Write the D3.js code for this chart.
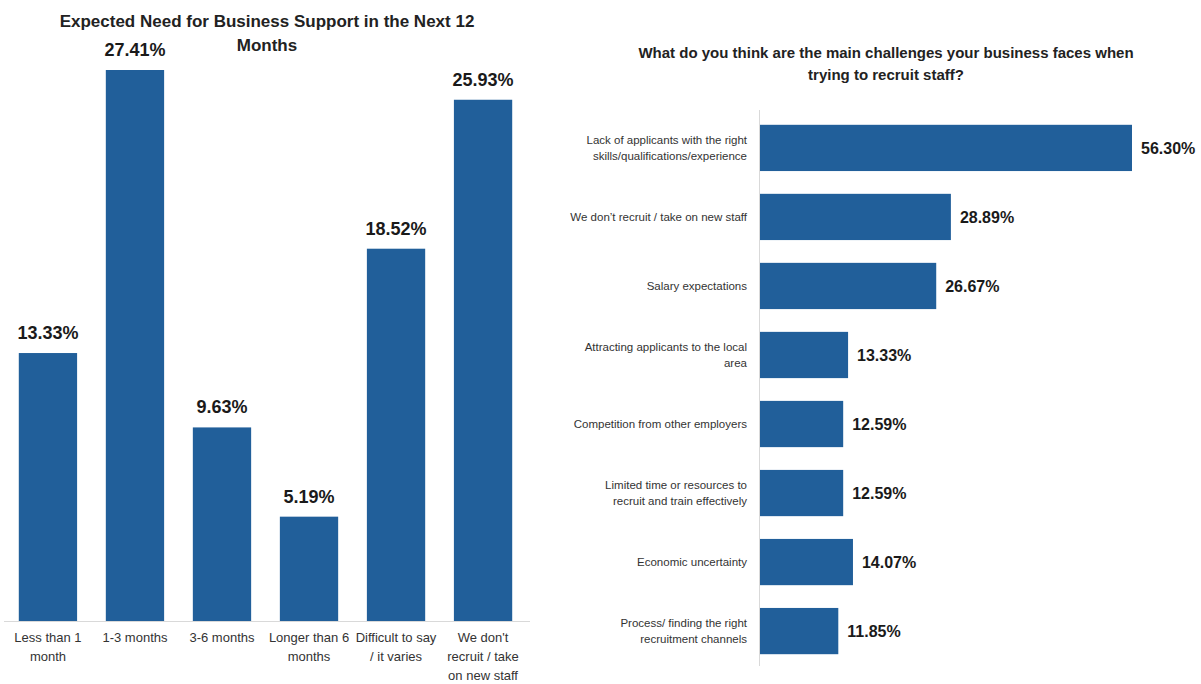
<!DOCTYPE html>
<html>
<head>
<meta charset="utf-8">
<script src="https://cdn.jsdelivr.net/npm/d3@7"></script>
<style>
  body { margin: 0; background: #fff; }
  svg { display: block; }
</style>
</head>
<body>
<div id="chart"></div>
<script>
// left chart data
const supportCats = [
  ["Less than 1", "month"],
  ["1-3 months"],
  ["3-6 months"],
  ["Longer than 6", "months"],
  ["Difficult to say", "/ it varies"],
  ["We don't", "recruit / take", "on new staff"]
];
const supportVals = [13.33, 27.41, 9.63, 5.19, 18.52, 25.93];

// right chart data
const challengeCats = [
  ["Lack of applicants with the right", "skills/qualifications/experience"],
  ["We don\u2019t recruit / take on new staff"],
  ["Salary expectations"],
  ["Attracting applicants to the local", "area"],
  ["Competition from other employers"],
  ["Limited time or resources to", "recruit and train effectively"],
  ["Economic uncertainty"],
  ["Process/ finding the right", "recruitment channels"]
];
const challengeVals = [56.30, 28.89, 26.67, 13.33, 12.59, 12.59, 14.07, 11.85];

const W = 1201, H = 684;
const barColor = "#215f9a";
const font = "'Liberation Sans', Arial, sans-serif";

const svg = d3.select("#chart").append("svg")
  .attr("width", W).attr("height", H)
  .style("font-family", font);

/* ---------- left: column chart ---------- */
function supportChart() {
  const base = 621;
  const x = d3.scaleBand()
    .domain(d3.range(supportVals.length))
    .range([4, 527])
    .paddingInner(0.33)
    .paddingOuter(0.17);
  const y = d3.scaleLinear().domain([0, 27.41]).range([base, 70]);

  const g = svg.append("g");

  g.append("text")
    .attr("x", 267).attr("y", 27)
    .attr("text-anchor", "middle")
    .attr("font-size", "17px").attr("font-weight", "bold")
    .attr("fill", "#222")
    .text("Expected Need for Business Support in the Next 12");
  g.append("text")
    .attr("x", 267).attr("y", 51)
    .attr("text-anchor", "middle")
    .attr("font-size", "17px").attr("font-weight", "bold")
    .attr("fill", "#222")
    .text("Months");

  g.selectAll("rect")
    .data(supportVals)
    .enter().append("rect")
    .attr("x", (d, i) => x(i))
    .attr("y", d => y(d))
    .attr("width", x.bandwidth())
    .attr("height", d => base - y(d))
    .attr("fill", barColor);

  g.append("line")
    .attr("x1", 4).attr("x2", 530)
    .attr("y1", base + 0.5).attr("y2", base + 0.5)
    .attr("stroke", "#d9d9d9");

  g.selectAll(".val")
    .data(supportVals)
    .enter().append("text")
    .attr("class", "val")
    .attr("x", (d, i) => x(i) + x.bandwidth() / 2)
    .attr("y", d => y(d) - 14)
    .attr("text-anchor", "middle")
    .attr("font-size", "18px").attr("font-weight", "bold")
    .attr("fill", "#1a1a1a")
    .text(d => d.toFixed(2) + "%");

  const labels = g.selectAll(".cat")
    .data(supportCats)
    .enter().append("text")
    .attr("class", "cat")
    .attr("x", (d, i) => x(i) + x.bandwidth() / 2)
    .attr("y", 642)
    .attr("text-anchor", "middle")
    .attr("font-size", "13px")
    .attr("fill", "#333");
  labels.selectAll("tspan")
    .data(d => d)
    .enter().append("tspan")
    .attr("x", function () { return d3.select(this.parentNode).attr("x"); })
    .attr("dy", (d, i) => i === 0 ? 0 : 19)
    .text(d => d);
}

/* ---------- right: horizontal bar chart ---------- */
function challengeChart() {
  const left = 760;
  const y = d3.scaleBand()
    .domain(d3.range(challengeVals.length))
    .range([111, 668])
    .paddingInner(0.33)
    .paddingOuter(0.2);
  const x = d3.scaleLinear().domain([0, 56.30]).range([left, 1132]);

  const g = svg.append("g");

  g.append("text")
    .attr("x", 886).attr("y", 58)
    .attr("text-anchor", "middle")
    .attr("font-size", "15px").attr("font-weight", "bold")
    .attr("fill", "#222")
    .text("What do you think are the main challenges your business faces when");
  g.append("text")
    .attr("x", 886).attr("y", 80)
    .attr("text-anchor", "middle")
    .attr("font-size", "15px").attr("font-weight", "bold")
    .attr("fill", "#222")
    .text("trying to recruit staff?");

  g.selectAll("rect")
    .data(challengeVals)
    .enter().append("rect")
    .attr("x", left)
    .attr("y", (d, i) => y(i))
    .attr("width", d => x(d) - left)
    .attr("height", y.bandwidth())
    .attr("fill", barColor);

  g.append("line")
    .attr("x1", left - 0.5).attr("x2", left - 0.5)
    .attr("y1", 110).attr("y2", 666)
    .attr("stroke", "#d9d9d9");

  g.selectAll(".val")
    .data(challengeVals)
    .enter().append("text")
    .attr("class", "val")
    .attr("x", d => x(d) + 9)
    .attr("y", (d, i) => y(i) + y.bandwidth() / 2)
    .attr("dy", "0.35em")
    .attr("font-size", "16px").attr("font-weight", "bold")
    .attr("fill", "#1a1a1a")
    .text(d => d.toFixed(2) + "%");

  const labels = g.selectAll(".cat")
    .data(challengeCats)
    .enter().append("text")
    .attr("class", "cat")
    .attr("x", 747)
    .attr("y", (d, i) => y(i) + y.bandwidth() / 2 - (d.length - 1) * 8)
    .attr("dy", "0.35em")
    .attr("text-anchor", "end")
    .attr("font-size", "11.5px")
    .attr("fill", "#333");
  labels.selectAll("tspan")
    .data(d => d)
    .enter().append("tspan")
    .attr("x", 747)
    .attr("dy", (d, i) => i === 0 ? "0.35em" : 16)
    .text(d => d);
}

supportChart();
challengeChart();
</script>
</body>
</html>
